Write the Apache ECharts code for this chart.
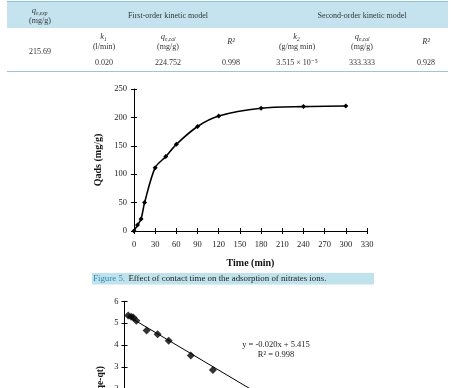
<!DOCTYPE html>
<html><head><meta charset="utf-8">
<script src="https://cdn.jsdelivr.net/npm/echarts@6/dist/echarts.min.js"></script>
<style>html,body{margin:0;padding:0;background:#fff;overflow:hidden}#c{width:451px;height:388px}</style>
</head><body><div id="c"></div>
<script>
// Figure 5 data: contact time vs adsorbed amount
const timeMin = [0, 5, 10, 15, 30, 45, 60, 90, 120, 180, 240, 300];
const qads = [0, 10.5, 21, 50, 111.5, 131, 152.6, 184, 202.5, 216, 219, 220];
// First-order kinetic plot
const lnTime = [5, 9, 12, 16, 30, 45, 60, 90, 120];
const lnValues = [5.35, 5.30, 5.26, 5.11, 4.67, 4.50, 4.20, 3.52, 2.86];
const trendPoints = [[5, 5.315], [200, 1.415]];
const eqText = ['y = -0.020x + 5.415', 'R² = 0.998'];
// Table
const tableHeads = ['First-order kinetic model', 'Second-order kinetic model'];
const tableUnits = ['(l/min)', '(mg/g)', '', '(g/mg min)', '(mg/g)', ''];
const tableValues = ['0.020', '224.752', '0.998', '3.515 × 10⁻⁵', '333.333', '0.928'];
const qeExp = '215.69';

const SERIF = '"Liberation Serif", "DejaVu Serif", serif';
const chart = echarts.init(document.getElementById('c'), null, {renderer: 'canvas'});

const colX = [104, 168, 231, 297, 362, 426];
const g = [];
// table background & lines
g.push({type: 'rect', shape: {x: 7, y: 2, width: 441, height: 26}, style: {fill: '#c4e3ee'}});
g.push({type: 'line', shape: {x1: 7, y1: 1.5, x2: 448, y2: 1.5}, style: {stroke: '#8cc3d6', lineWidth: 1}});
g.push({type: 'line', shape: {x1: 7, y1: 71.5, x2: 448, y2: 71.5}, style: {stroke: '#9cc6d4', lineWidth: 1}});
function txt(t, x, y, size, opts) {
  opts = opts || {};
  g.push({type: 'text', x: x, y: y, rotation: opts.rot || 0, style: {
    text: t, fill: opts.fill || '#333', align: opts.align || 'center', verticalAlign: 'middle',
    font: (opts.style || '') + ' ' + (opts.weight || 'normal') + ' ' + size + 'px ' + SERIF}});
}
function sym(main, sub, cx, y) {
  // italic symbol with subscript
  txt(main, cx - 1, y, 8.5, {style: 'italic', align: 'right'});
  txt(sub, cx - 1, y + 2.5, 5.5, {style: 'italic', align: 'left'});
}
sym('q', 'e,exp', 37, 11);
txt('(mg/g)', 40, 21, 8);
txt(tableHeads[0], 168, 16, 8);
txt(tableHeads[1], 362, 16, 8);
txt(qeExp, 40, 52, 8);
sym('k', '1', colX[0] + 1, 37);
sym('q', 'e,cal', colX[1] - 2, 37);
sym('k', '2', colX[3] + 1, 37);
sym('q', 'e,cal', colX[4] - 2, 37);
txt('R²', colX[2], 42, 8.5, {style: 'italic'});
txt('R²', colX[5], 42, 8.5, {style: 'italic'});
tableUnits.forEach((u, i) => { if (u) txt(u, colX[i], 46.5, 8); });
tableValues.forEach((v, i) => txt(v, colX[i], 62.5, 8));
// caption
g.push({type: 'rect', shape: {x: 92, y: 273, width: 282, height: 11.5}, style: {fill: '#c0e2ed'}});
g.push({type: 'text', x: 93, y: 279, style: {
  text: '{a|Figure 5.} {b|Effect of contact time on the adsorption of nitrates ions.}',
  verticalAlign: 'middle', align: 'left',
  rich: {a: {fill: '#2f8ab3', font: '8.9px ' + SERIF}, b: {fill: '#222', font: '8.9px ' + SERIF}}}});
// equation text
txt(eqText[0], 276, 344.5, 8.5, {fill: '#222'});
txt(eqText[1], 276, 354.5, 8.5, {fill: '#222'});
// chart2 y label
txt('Ln(qe-qt)', 101, 366, 9.5, {weight: 'bold', align: 'right', rot: Math.PI / 2, fill: '#111'});

const axisLbl = {color: '#222', fontFamily: SERIF, fontSize: 8.5};
const axLine = {show: true, lineStyle: {color: '#000', width: 1}};
function dupAxis(base) {
  return Object.assign({}, base, {axisLine: {show: false}, axisLabel: {show: false}, name: '',
    axisTick: {show: true, inside: true, length: 3, lineStyle: {color: '#000'}}});
}
const x1 = {type: 'value', gridIndex: 0, min: 0, max: 330, interval: 30, position: 'bottom',
  axisLine: Object.assign({onZero: false}, axLine), splitLine: {show: false},
  axisTick: {show: true, length: 3, lineStyle: {color: '#000'}},
  axisLabel: Object.assign({margin: 9}, axisLbl),
  name: 'Time (min)', nameLocation: 'middle', nameGap: 27,
  nameTextStyle: {fontFamily: SERIF, fontWeight: 'bold', fontSize: 10, color: '#111'}};
const y1 = {type: 'value', gridIndex: 0, min: 0, max: 250, interval: 50, position: 'left',
  axisLine: Object.assign({onZero: false}, axLine), splitLine: {show: false},
  axisTick: {show: true, length: 3, lineStyle: {color: '#000'}},
  axisLabel: Object.assign({margin: 7}, axisLbl),
  name: 'Qads (mg/g)', nameLocation: 'middle', nameGap: 23,
  nameTextStyle: {fontFamily: SERIF, fontWeight: 'bold', fontSize: 10, color: '#111'}};
const x2 = {type: 'value', gridIndex: 1, min: 0, max: 300, interval: 30, show: false};
const y2 = {type: 'value', gridIndex: 1, min: 0, max: 6, interval: 1, position: 'left',
  axisLine: Object.assign({onZero: false}, axLine), splitLine: {show: false},
  axisTick: {show: true, length: 3, lineStyle: {color: '#000'}},
  axisLabel: Object.assign({margin: 6}, axisLbl)};

chart.setOption({
  animation: false,
  backgroundColor: '#fff',
  grid: [
    {left: 134, top: 89, width: 233, height: 142, outerBoundsMode: 'none', containLabel: false},
    {left: 124.5, top: 301.3, width: 221, height: 131.4, outerBoundsMode: 'none', containLabel: false}
  ],
  xAxis: [x1, dupAxis(x1), x2],
  yAxis: [y1, dupAxis(y1), y2, dupAxis(y2)],
  series: [
    {type: 'line', xAxisIndex: 0, yAxisIndex: 0, data: timeMin.map((t, i) => [t, qads[i]]),
      smooth: 0.3, symbol: 'diamond', symbolSize: 5, showAllSymbol: true,
      lineStyle: {color: '#000', width: 1.6}, itemStyle: {color: '#000'}},
    {type: 'line', xAxisIndex: 2, yAxisIndex: 2, data: trendPoints, symbol: 'none',
      lineStyle: {color: '#000', width: 1}},
    {type: 'scatter', xAxisIndex: 2, yAxisIndex: 2, data: lnTime.map((t, i) => [t, lnValues[i]]),
      symbol: 'diamond', symbolSize: 8, itemStyle: {color: '#000'}}
  ],
  graphic: g
});
</script></body></html>
